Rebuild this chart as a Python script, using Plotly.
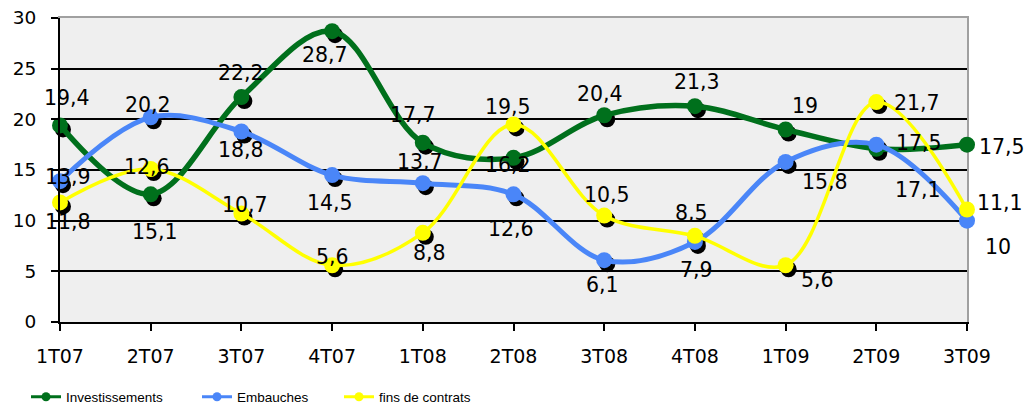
import plotly.graph_objects as go

categories = ["1T07", "2T07", "3T07", "4T07", "1T08", "2T08", "3T08", "4T08", "1T09", "2T09", "3T09"]
investissements = [19.4, 12.6, 22.2, 28.7, 17.7, 16.2, 20.4, 21.3, 19, 17.1, 17.5]
embauches = [13.9, 20.2, 18.8, 14.5, 13.7, 12.6, 6.1, 7.9, 15.8, 17.5, 10]
fins_de_contrats = [11.8, 15.1, 10.7, 5.6, 8.8, 19.5, 10.5, 8.5, 5.6, 21.7, 11.1]
y_ticks = [0, 5, 10, 15, 20, 25, 30]

# label offsets in pixels (dx right, dy down) – styling only
off_inv = [(7, -27), (-4, -27), (0, -24), (-7, 24), (-10, -28), (-6, 7), (-4, -21), (2, -24), (19, -23), (42, 41), (35, 2)]
off_emb = [(8, -4), (-3, -12), (0, 19), (-2, 28), (-3, -21), (-3, 35), (-2, 25), (2, 28), (39, 20), (43, -2), (31, 26)]
off_fin = [(8, 20), (4, 63), (4, -9), (0, -8), (7, 20), (-6, -17), (3, -21), (-3, -23), (32, 15), (41, 1), (33, -7)]

W, H = 1028, 405
ML, MR, MT, MB = 60, 61, 18, 83
PW, PH = W - ML - MR, H - MT - MB
n = len(categories)
x_unit = PW / (n - 1)
y_unit = PH / 30.0
SDX, SDY = 3, 4  # shadow offset in px

series = [
    ("Investissements", investissements, "#00701c", 5.5, 16, off_inv, "legend"),
    ("Embauches", embauches, "#4a86f8", 5, 16, off_emb, "legend2"),
    ("fins de contrats", fins_de_contrats, "#ffff00", 3.5, 16, off_fin, "legend3"),
]

fig = go.Figure()

# shadows (primary axes, shifted range)
for name, vals, color, lw, ms, offs, lg in series:
    fig.add_trace(go.Scatter(
        x=categories, y=vals, mode="markers", xaxis="x", yaxis="y",
        marker=dict(color="black", size=ms), showlegend=False, hoverinfo="skip",
        cliponaxis=False))

# main series (overlaying axes)
for name, vals, color, lw, ms, offs, lg in series:
    fig.add_trace(go.Scatter(
        x=categories, y=vals, mode="lines+markers", xaxis="x2", yaxis="y2",
        line=dict(color=color, width=lw, shape="spline", smoothing=1.0),
        marker=dict(color=color, size=ms), name=name, showlegend=False,
        cliponaxis=False))

# legend entries
for name, vals, color, lw, ms, offs, lg in series:
    fig.add_trace(go.Scatter(
        x=[None], y=[None], mode="lines+markers", xaxis="x2", yaxis="y2",
        line=dict(color=color, width=3), marker=dict(color=color, size=9),
        name=name, legend=lg, showlegend=True))

annotations = []
for name, vals, color, lw, ms, offs, lg in series:
    for c, v, (dx, dy) in zip(categories, vals, offs):
        annotations.append(dict(
            x=c, y=v, xref="x2", yref="y2", text=f"{v:g}".replace(".", ","),
            showarrow=False, xanchor="center", yanchor="middle",
            xshift=dx, yshift=-dy,
            font=dict(family="DejaVu Sans", size=20.5, color="black")))

leg_common = dict(orientation="h", yanchor="middle", xanchor="left", y=(PH - (397 - MT)) / PH,
                  font=dict(family="Liberation Sans", size=13.5, color="black"),
                  bgcolor="rgba(0,0,0,0)")

fig.update_layout(
    width=W, height=H,
    margin=dict(l=ML, r=MR, t=MT, b=MB, autoexpand=False),
    paper_bgcolor="white", plot_bgcolor="#efefef",
    xaxis=dict(type="category", categoryorder="array", categoryarray=categories,
               range=[-SDX / x_unit, (n - 1) - SDX / x_unit], side="top",
               showticklabels=False, ticks="", showgrid=False, zeroline=False,
               showline=True, linecolor="#a0a0a0", linewidth=2, layer="below traces",
               automargin=False, fixedrange=True),
    yaxis=dict(range=[SDY / y_unit, 30 + SDY / y_unit], side="right",
               showticklabels=False, ticks="", showgrid=False, zeroline=False,
               showline=True, linecolor="#a0a0a0", linewidth=2, layer="below traces",
               automargin=False, fixedrange=True),
    xaxis2=dict(type="category", categoryorder="array", categoryarray=categories,
                overlaying="x", range=[0, n - 1], showgrid=False, zeroline=False,
                showline=True, linecolor="black", linewidth=2,
                ticks="outside", ticklen=7, tickwidth=2, tickcolor="black",
                ticklabelstandoff=9, automargin=False,
                tickfont=dict(family="DejaVu Sans", size=19, color="black")),
    yaxis2=dict(overlaying="y", range=[0, 30], tickvals=y_ticks, showgrid=True,
                gridcolor="black", gridwidth=1.5, zeroline=False,
                showline=True, linecolor="black", linewidth=2,
                ticks="outside", ticklen=7, tickwidth=2, tickcolor="black",
                ticklabelstandoff=11, automargin=False,
                tickfont=dict(family="DejaVu Sans", size=18.5, color="black")),
    legend=dict(x=(26 - ML) / PW, **leg_common),
    legend2=dict(x=(197 - ML) / PW, **leg_common),
    legend3=dict(x=(339 - ML) / PW, **leg_common),
    annotations=annotations,
)

fig.write_html("out.html", config={"displayModeBar": False},
               post_script="document.body.style.margin='0';document.body.style.overflow='hidden';")
